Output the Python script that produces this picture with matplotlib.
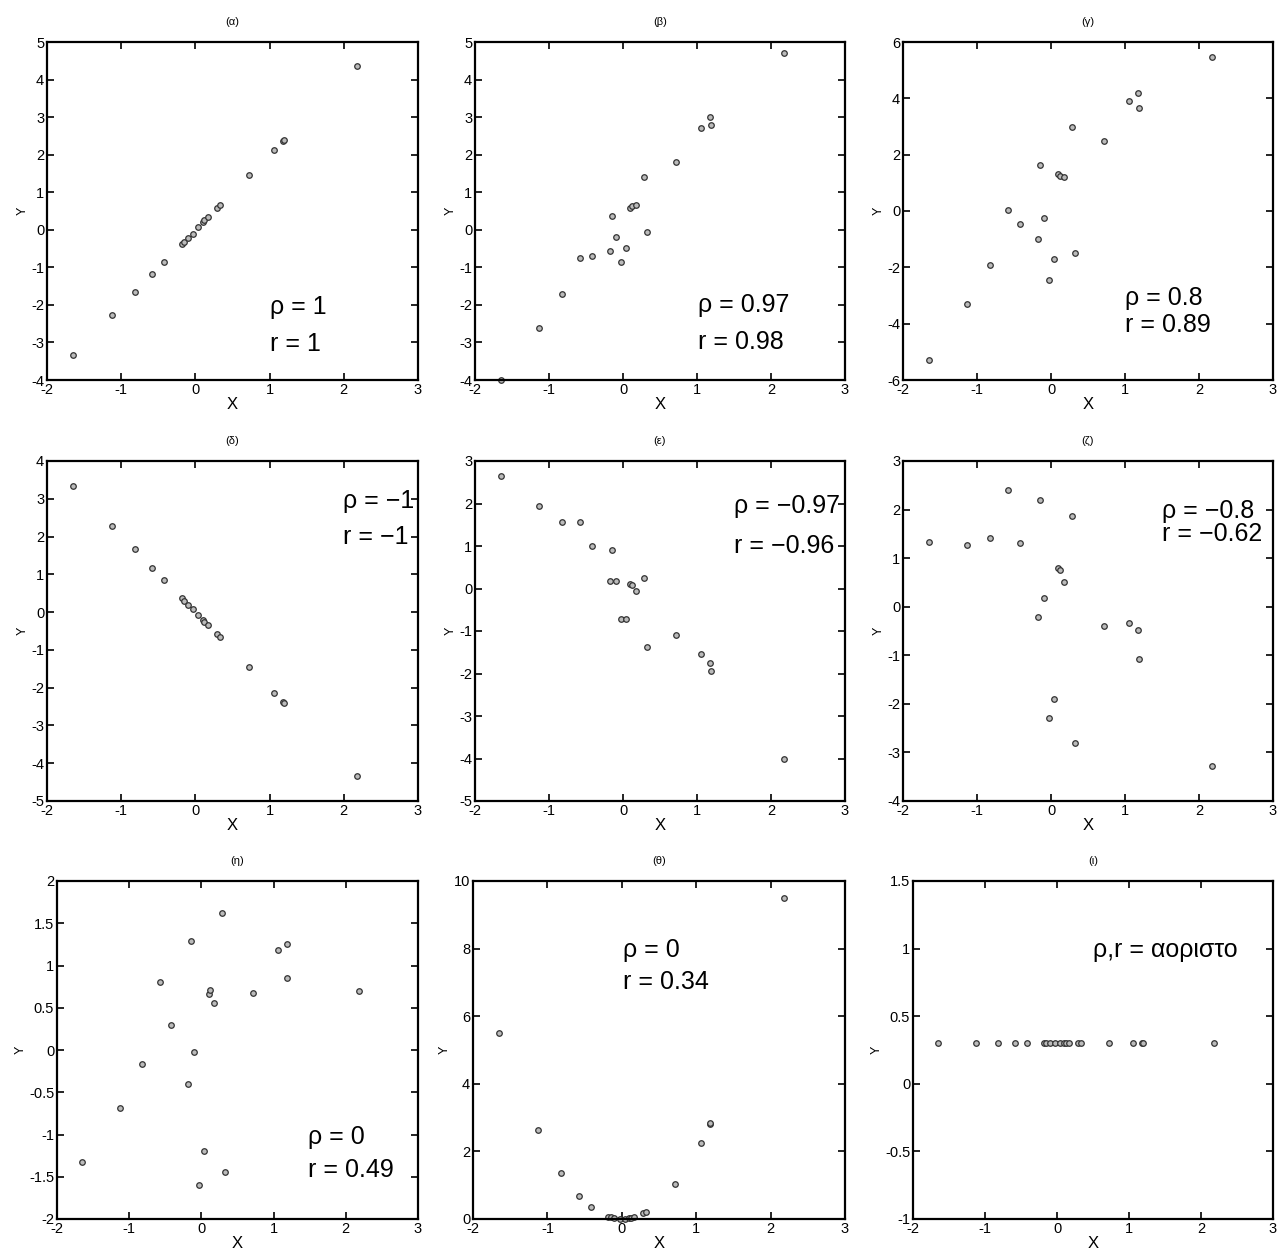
import matplotlib
matplotlib.use("Agg")
import matplotlib.pyplot as plt

plt.rcParams['font.family'] = ['Liberation Sans', 'DejaVu Sans']
plt.rcParams['axes.unicode_minus'] = False

# shared x values of the 20 samples
x = [-1.65, -1.13, -0.82, -0.58, -0.42, -0.18, -0.15, -0.10, -0.03, 0.04,
     0.10, 0.12, 0.17, 0.29, 0.33, 0.72, 1.06, 1.18, 1.19, 2.18]

# y values per panel
y_alpha = [-3.33, -2.28, -1.65, -1.18, -0.87, -0.38, -0.32, -0.22, -0.10, 0.07,
           0.20, 0.25, 0.33, 0.57, 0.66, 1.45, 2.12, 2.37, 2.40, 4.35]
y_beta = [-4.00, -2.62, -1.72, -0.76, -0.71, -0.56, 0.38, -0.20, -0.87, -0.48,
          0.57, 0.62, 0.65, 1.40, -0.07, 1.80, 2.72, 3.00, 2.80, 4.72]
y_gamma = [-5.30, -3.30, -1.90, 0.05, -0.45, -0.98, 1.65, -0.25, -2.45, -1.70,
           1.30, 1.25, 1.20, 3.00, -1.50, 2.50, 3.90, 4.20, 3.65, 5.45]
y_delta = [3.33, 2.28, 1.67, 1.17, 0.85, 0.37, 0.30, 0.20, 0.07, -0.08,
           -0.20, -0.25, -0.33, -0.57, -0.66, -1.45, -2.15, -2.37, -2.40, -4.35]
y_epsilon = [2.65, 1.93, 1.57, 1.57, 1.00, 0.17, 0.90, 0.17, -0.72, -0.72,
             0.10, 0.08, -0.07, 0.24, -1.37, -1.10, -1.53, -1.75, -1.95, -4.00]
y_zeta = [1.33, 1.27, 1.42, 2.40, 1.31, -0.22, 2.20, 0.17, -2.30, -1.90,
          0.80, 0.75, 0.50, 1.87, -2.80, -0.40, -0.33, -0.48, -1.07, -3.27]
y_eta = [-1.33, -0.69, -0.16, 0.81, 0.29, -0.40, 1.29, -0.02, -1.60, -1.20,
         0.66, 0.71, 0.56, 1.62, -1.44, 0.68, 1.18, 1.25, 0.85, 0.70]
y_theta = [5.50, 2.62, 1.37, 0.67, 0.36, 0.06, 0.05, 0.02, 0.00, 0.00,
           0.02, 0.03, 0.06, 0.17, 0.22, 1.05, 2.25, 2.80, 2.85, 9.50]
y_iota = [0.30] * 20

titles = ['(α)', '(β)', '(γ)', '(δ)', '(ε)', '(ζ)', '(η)', '(θ)', '(ι)']
ys = [y_alpha, y_beta, y_gamma, y_delta, y_epsilon, y_zeta, y_eta, y_theta, y_iota]
labels = [['ρ = 1', 'r = 1'], ['ρ = 0.97', 'r = 0.98'], ['ρ = 0.8', 'r = 0.89'],
          ['ρ = −1', 'r = −1'], ['ρ = −0.97', 'r = −0.96'], ['ρ = −0.8', 'r = −0.62'],
          ['ρ = 0', 'r = 0.49'], ['ρ = 0', 'r = 0.34'], ['ρ,r = αοριστο']]

# layout / style settings
ylims = [(-4, 5), (-4, 5), (-6, 6), (-5, 4), (-5, 3), (-4, 3), (-2, 2), (0, 10), (-1, 1.5)]
ysteps = [1, 1, 2, 1, 1, 1, 0.5, 2, 0.5]
text_pos = [[(1.0, -2.05), (1.0, -3.05)], [(1.02, -2.0), (1.02, -3.0)],
            [(1.0, -3.1), (1.0, -4.05)], [(1.99, 2.94), (1.99, 2.0)],
            [(1.5, 1.94), (1.5, 1.0)], [(1.5, 1.98), (1.5, 1.5)],
            [(1.48, -1.03), (1.48, -1.42)], [(0.02, 7.95), (0.02, 7.0)],
            [(0.5, 0.99)]]
rects_px = [(47, 42, 418, 380), (475, 42, 845, 380), (903, 42, 1273, 380),
            (47, 461, 418, 801), (475, 461, 845, 801), (903, 461, 1273, 801),
            (57, 881, 418, 1219), (473, 881, 845, 1219), (913, 881, 1273, 1219)]

W, H = 1285, 1254
fig = plt.figure(figsize=(W / 100, H / 100), dpi=100)

for i in range(9):
    l, t, r, b = rects_px[i]
    ax = fig.add_axes([l / W, 1 - b / H, (r - l) / W, (b - t) / H])
    ax.plot(x, ys[i], 'o', ms=4, mfc='#bbbbbb', mec='#333333', mew=0.9, clip_on=False)
    ax.set_xlim(-2, 3)
    ax.set_ylim(*ylims[i])
    ax.set_xticks(range(-2, 4))
    lo, hi = ylims[i]
    n = int(round((hi - lo) / ysteps[i]))
    ticks = [lo + k * ysteps[i] for k in range(n + 1)]
    ax.set_yticks(ticks)
    ax.set_yticklabels(['%g' % t for t in ticks])
    ax.tick_params(direction='in', top=True, right=True, length=5, width=1.2,
                   labelsize=10.5, pad=2)
    for s in ax.spines.values():
        s.set_linewidth(1.6)
    ax.set_title(titles[i], fontsize=8, pad=12)
    ax.set_xlabel('X', fontsize=12, labelpad=0)
    ax.set_ylabel('Y', fontsize=9, labelpad=2)
    for lab, (tx, ty) in zip(labels[i], text_pos[i]):
        ax.text(tx, ty, lab, fontsize=18, ha='left', va='center', clip_on=False)

fig.savefig('out.png', dpi=100)
